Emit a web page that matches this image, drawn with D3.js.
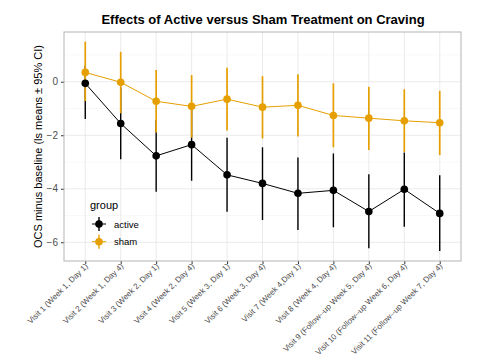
<!DOCTYPE html>
<html><head><meta charset="utf-8">
<script src="https://cdn.jsdelivr.net/npm/d3@7"></script>
<style>body{margin:0;background:#fff;} svg{display:block;font-family:"Liberation Sans",Arial,sans-serif;}</style>
</head><body>
<svg id="c" width="485" height="360"></svg>
<script>
const categories = ["Visit 1 (Week 1, Day 1)","Visit 2 (Week 1, Day 4)","Visit 3 (Week 2, Day 1)","Visit 4 (Week 2, Day 4)","Visit 5 (Week 3, Day 1)","Visit 6 (Week 3, Day 4)","Visit 7 (Week 4,Day 1)","Visit 8 (Week 4, Day 4)","Visit 9 (Follow--up Week 5, Day 4)","Visit 10 (Follow--up Week 6, Day 4)","Visit 11 (Follow--up Week 7, Day 4)"];
const activeMean = [-0.06,-1.56,-2.77,-2.35,-3.48,-3.80,-4.17,-4.06,-4.85,-4.02,-4.92];
const activeLow  = [-1.39,-2.90,-4.11,-3.70,-4.86,-5.17,-5.54,-5.44,-6.22,-5.42,-6.33];
const activeHigh = [0.60,-0.21,-1.43,-1.00,-2.09,-2.45,-2.83,-2.68,-3.46,-2.64,-3.49];
const shamMean = [0.35,-0.02,-0.73,-0.92,-0.65,-0.95,-0.88,-1.26,-1.36,-1.46,-1.53];
const shamLow  = [-0.72,-1.18,-1.90,-2.09,-1.82,-2.12,-2.05,-2.45,-2.55,-2.63,-2.74];
const shamHigh = [1.50,1.12,0.44,0.25,0.52,0.21,0.28,-0.06,-0.19,-0.28,-0.34];
const yTicks = [0,-2,-4,-6];
const yMinor = [1,-1,-3,-5];
const groups = ["active","sham"];
const colors = {active:"#000000", sham:"#E69F00"};

const svg = d3.select("#c");
const L=64, R=461, T=32, B=261;
const x = d3.scalePoint().domain(categories).range([L,R]).padding(0.6);
const y = d3.scaleLinear().domain([-6.70,1.86]).range([B,T]);

// grid
const g = svg.append("g");
g.selectAll(".mn").data(yMinor).join("line").attr("x1",L).attr("x2",R).attr("y1",d=>y(d)).attr("y2",d=>y(d)).attr("stroke","#f0f0f0").attr("stroke-width",0.5);
g.selectAll(".mj").data(yTicks).join("line").attr("x1",L).attr("x2",R).attr("y1",d=>y(d)).attr("y2",d=>y(d)).attr("stroke","#e6e6e6").attr("stroke-width",0.8);
g.selectAll(".vx").data(categories).join("line").attr("y1",T).attr("y2",B).attr("x1",d=>x(d)).attr("x2",d=>x(d)).attr("stroke","#e6e6e6").attr("stroke-width",0.8);

// axes
const ya = svg.append("g").attr("transform",`translate(${L},0)`).call(d3.axisLeft(y).tickValues(yTicks).tickSize(3).tickPadding(3).tickFormat(d=>d===0?"0":"\u2212"+Math.abs(d)));
ya.select(".domain").remove();
ya.selectAll("line").attr("stroke","#333");
ya.selectAll("text").attr("fill","#4d4d4d").attr("font-size",10).attr("font-family","Liberation Sans, Arial, sans-serif");
const xa = svg.append("g").attr("transform",`translate(0,${B})`).call(d3.axisBottom(x).tickSize(3).tickPadding(2));
xa.select(".domain").remove();
xa.selectAll("line").attr("stroke","#333");
xa.selectAll("text").attr("fill","#4d4d4d").attr("font-size",8).attr("font-family","Liberation Sans, Arial, sans-serif")
  .attr("text-anchor","end").attr("dy","0.3em").attr("transform","translate(1,4) rotate(-45)").attr("x",0).attr("y",0);

// border
svg.append("rect").attr("x",L).attr("y",T).attr("width",R-L).attr("height",B-T).attr("fill","none").attr("stroke","#b3b3b3").attr("stroke-width",1);

// series
const series = [
  {name:"active", mean:activeMean, low:activeLow, high:activeHigh, w:1.4},
  {name:"sham", mean:shamMean, low:shamLow, high:shamHigh, w:1.7}
];
const lineLayer = svg.append("g"), barLayer = svg.append("g"), ptLayer = svg.append("g");
series.forEach(s=>{
  const c = colors[s.name];
  lineLayer.append("path").datum(s.mean).attr("fill","none").attr("stroke",c).attr("stroke-width",1)
    .attr("d", d3.line().x((d,i)=>x(categories[i])).y(d=>y(d)));
  barLayer.append("g").selectAll("line").data(s.mean).join("line")
    .attr("x1",(d,i)=>x(categories[i])).attr("x2",(d,i)=>x(categories[i]))
    .attr("y1",(d,i)=>y(s.low[i])).attr("y2",(d,i)=>y(s.high[i]))
    .attr("stroke",c).attr("stroke-width",s.w);
  ptLayer.append("g").selectAll("circle").data(s.mean).join("circle")
    .attr("cx",(d,i)=>x(categories[i])).attr("cy",d=>y(d)).attr("r",3.8).attr("fill",c);
});

// legend
const lg = svg.append("g");
lg.append("text").attr("x",90).attr("y",209).attr("font-size",11).attr("fill","#000").text("group");
groups.forEach((gname,i)=>{
  const cy = 224 + i*17.7, cx = 99, c = colors[gname];
  lg.append("line").attr("x1",cx-7).attr("x2",cx+7).attr("y1",cy).attr("y2",cy).attr("stroke",c).attr("stroke-width",1);
  lg.append("line").attr("x1",cx).attr("x2",cx).attr("y1",cy-7).attr("y2",cy+7).attr("stroke",c).attr("stroke-width",1.4);
  lg.append("circle").attr("cx",cx).attr("cy",cy).attr("r",3.8).attr("fill",c);
  lg.append("text").attr("x",114).attr("y",cy+3.5).attr("font-size",9.5).attr("fill","#000").text(gname);
});

// titles
svg.append("text").attr("x",263).attr("y",24).attr("text-anchor","middle").attr("font-size",13).attr("font-weight","bold").attr("fill","#000").text("Effects of Active versus Sham Treatment on Craving");
svg.append("text").attr("transform",`translate(42,${(T+B)/2}) rotate(-90)`).attr("text-anchor","middle").attr("font-size",11).attr("fill","#000").text("OCS minus baseline (ls means \u00b1 95% CI)");
</script>
</body></html>
